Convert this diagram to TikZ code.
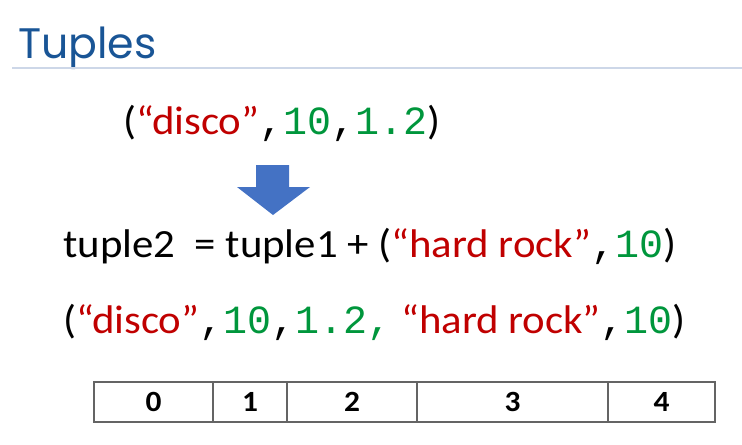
\documentclass[tikz,border=0pt]{standalone}
\usepackage{fontspec}
\setmainfont{Carlito}[FakeStretch=1.07]
\newfontfamily\codefont{Liberation Mono}
\newfontfamily\titlefont{Poppins}
\usetikzlibrary{positioning}

\definecolor{strred}{RGB}{192,0,0}
\definecolor{numgreen}{RGB}{0,150,60}
\definecolor{titleblue}{RGB}{25,85,150}
\definecolor{arrowblue}{RGB}{68,114,196}
\definecolor{rulegray}{RGB}{205,215,232}
\definecolor{tablegray}{RGB}{100,100,100}

\newcommand{\strtxt}[1]{\textcolor{strred}{#1}}
\newcommand{\numtxt}[1]{{\codefont\textcolor{numgreen}{#1}}}
\newcommand{\sep}{{\codefont,}}

\begin{document}
\begin{tikzpicture}[x=0.75pt, y=-0.75pt,
  line/.style={anchor=base west, inner sep=0pt, font=\fontsize{30}{36}\selectfont},
  cell/.style={draw=tablegray, line width=0.9pt, inner sep=0pt, minimum height=30pt,
    font=\bfseries\fontsize{22}{26}\selectfont}]
  \useasboundingbox (0,0) rectangle (742,444);

  %% title and rule
  \node (title) at (18,58) [anchor=base west, inner sep=0pt, text=titleblue,
    font=\titlefont\fontsize{32}{38}\selectfont] {Tuples};
  \coordinate (rl) at (12,68); % rule start
  \coordinate (rr) at (742,68); % rule end
  \draw[rulegray, line width=1.5pt] (rl) -- (rr);

  %% first tuple
  \node (tup1) at (123,134) [line] {(\strtxt{“disco”}\sep\numtxt{10}\sep\numtxt{1.2})};

  %% block arrow
  \fill[arrowblue] (256,165) -- (289,165) -- (289,187) -- (310,187) -- (273,215)
    -- (237,187) -- (256,187) -- cycle;

  %% concatenation
  \node (tup2) at (63,257) [line] {tuple2\ \ = tuple1 + (\strtxt{“hard rock”}\sep\numtxt{10})};
  \node (res) at (63,333) [line] {(\strtxt{“disco”}\sep\numtxt{10}\sep\numtxt{1.2,} \strtxt{“hard rock”}\sep\numtxt{10})};

  %% index table
  \node (i0) at (153.5,402) [cell, minimum width=89.25pt] {0};
  \node (i1) at (250,402)   [cell, minimum width=55.5pt]  {1};
  \node (i2) at (352,402)   [cell, minimum width=97.5pt]  {2};
  \node (i3) at (512.5,402) [cell, minimum width=143.25pt] {3};
  \node (i4) at (661.5,402) [cell, minimum width=80.25pt] {4};
\end{tikzpicture}
\end{document}
